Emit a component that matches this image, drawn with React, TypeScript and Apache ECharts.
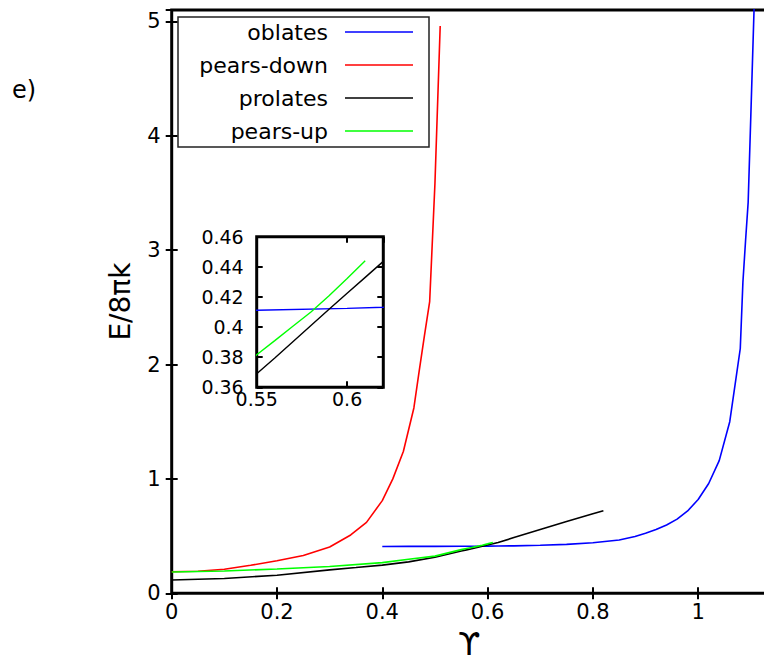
import React, { useEffect, useRef } from "react";
import * as echarts from "echarts";

// ---- data ----
const seriesNames = ["oblates", "pears-down", "prolates", "pears-up"];
const seriesColors = ["#0000ff", "#ff0000", "#000000", "#00ff00"];

const oblatesX = [0.4, 0.45, 0.5, 0.55, 0.6, 0.62, 0.65, 0.7, 0.75, 0.8, 0.85, 0.88, 0.9, 0.92, 0.94, 0.96, 0.98, 1.0, 1.02, 1.04, 1.06, 1.07, 1.08, 1.085, 1.09, 1.095, 1.1, 1.106, 1.112];
const oblatesY = [0.4095, 0.41, 0.4105, 0.4112, 0.4124, 0.4132, 0.415, 0.42, 0.428, 0.442, 0.466, 0.497, 0.525, 0.557, 0.597, 0.648, 0.72, 0.82, 0.96, 1.16, 1.5, 1.82, 2.14, 2.72, 3.08, 3.42, 4.17, 5.08, 6.0];

const pearsDownX = [0, 0.05, 0.1, 0.15, 0.2, 0.25, 0.3, 0.34, 0.37, 0.4, 0.42, 0.44, 0.46, 0.47, 0.48, 0.49, 0.5, 0.51];
const pearsDownY = [0.189, 0.193, 0.21, 0.245, 0.284, 0.33, 0.405, 0.51, 0.62, 0.81, 1.0, 1.24, 1.62, 1.94, 2.25, 2.55, 3.58, 4.96];

const prolatesX = [0, 0.1, 0.2, 0.3, 0.35, 0.4, 0.45, 0.5, 0.55, 0.56, 0.57, 0.58, 0.59, 0.6, 0.61, 0.62, 0.65, 0.7, 0.75, 0.8, 0.82];
const prolatesY = [0.116, 0.13, 0.158, 0.205, 0.225, 0.246, 0.275, 0.315, 0.369, 0.3795, 0.3902, 0.401, 0.4118, 0.4225, 0.433, 0.4436, 0.487, 0.557, 0.627, 0.695, 0.722];

const pearsUpX = [0, 0.1, 0.2, 0.3, 0.4, 0.45, 0.5, 0.55, 0.56, 0.57, 0.58, 0.59, 0.6, 0.61];
const pearsUpY = [0.186, 0.195, 0.212, 0.234, 0.268, 0.297, 0.325, 0.3816, 0.391, 0.4005, 0.41, 0.4208, 0.4322, 0.444];

const mainXTicks = { min: 0, max: 1.13, interval: 0.2 };
const mainYTicks = { min: 0, max: 5.1, interval: 1 };
const insetXTicks = { min: 0.55, max: 0.62, interval: 0.05 };
const insetYTicks = { min: 0.36, max: 0.46, interval: 0.02 };

const xAxisTitle = "ϒ";
const yAxisTitle = "E/8πk";
const panelLabel = "e)";

const zip = (xs: number[], ys: number[]) => xs.map((x, i) => [x, ys[i]]);
const allData = [
  zip(oblatesX, oblatesY),
  zip(pearsDownX, pearsDownY),
  zip(prolatesX, prolatesY),
  zip(pearsUpX, pearsUpY),
];

const FONT = "DejaVu Sans";

export default function App() {
  const ref = useRef<HTMLDivElement>(null);
  useEffect(() => {
    if (!ref.current) return;
    const chart = echarts.init(ref.current, null, { renderer: "svg" });
    const tick = (len: number) => ({
      show: true,
      inside: true,
      length: len,
      lineStyle: { color: "#000", width: 2 },
    });
    const base = {
      type: "value",
      axisLine: { show: false },
      splitLine: { show: false },
    };
    const labelStyle = (size: number, margin: number, hideMax = false) => ({
      show: true,
      fontFamily: FONT,
      fontSize: size,
      color: "#000",
      margin,
      showMaxLabel: hideMax ? false : null,
    });
    const noLabel = { show: false };

    const mainSeries = allData.map((d, i) => ({
      name: seriesNames[i],
      type: "line",
      data: d,
      xAxisIndex: 0,
      yAxisIndex: 0,
      symbol: "none",
      clip: true,
      lineStyle: { color: seriesColors[i], width: 1.6 },
      itemStyle: { color: seriesColors[i] },
      z: 3,
    }));
    const insetSeries = allData.map((d, i) => ({
      name: seriesNames[i],
      type: "line",
      data: d,
      xAxisIndex: 2,
      yAxisIndex: 2,
      symbol: "none",
      clip: true,
      lineStyle: { color: seriesColors[i], width: 1.4 },
      itemStyle: { color: seriesColors[i] },
      z: 5,
    }));

    chart.setOption({
      animation: false,
      backgroundColor: "#fff",
      textStyle: { fontFamily: FONT },
      grid: [
        {
          left: 171.7,
          top: 9.9,
          width: 594.9,
          height: 583.4,
          outerBoundsMode: "none",
          containLabel: false,
          show: true,
          borderColor: "#000",
          borderWidth: 3,
          backgroundColor: "transparent",
          z: 1,
        },
        {
          left: 256.7,
          top: 236.7,
          width: 126.6,
          height: 150.6,
          outerBoundsMode: "none",
          containLabel: false,
          show: true,
          borderColor: "#000",
          borderWidth: 3,
          backgroundColor: "#fff",
          z: 4,
        },
      ],
      xAxis: [
        {
          ...base,
          gridIndex: 0,
          position: "bottom",
          ...mainXTicks,
          axisTick: tick(6),
          axisLabel: labelStyle(21, 8, true),
          name: xAxisTitle,
          nameLocation: "middle",
          nameGap: 27,
          nameTextStyle: { fontFamily: FONT, fontSize: 32, color: "#000", lineHeight: 34 },
        },
        {
          ...base,
          gridIndex: 0,
          position: "top",
          ...mainXTicks,
          axisTick: tick(6),
          axisLabel: noLabel,
        },
        {
          ...base,
          gridIndex: 1,
          position: "bottom",
          ...insetXTicks,
          axisTick: tick(6),
          axisLabel: labelStyle(19, 2, true),
          z: 6,
        },
        {
          ...base,
          gridIndex: 1,
          position: "top",
          ...insetXTicks,
          axisTick: tick(6),
          axisLabel: noLabel,
          z: 6,
        },
      ],
      yAxis: [
        {
          ...base,
          gridIndex: 0,
          position: "left",
          ...mainYTicks,
          axisTick: tick(6),
          axisLabel: labelStyle(21, 11, true),
          name: yAxisTitle,
          nameLocation: "middle",
          nameGap: 37,
          nameRotate: 90,
          nameTextStyle: { fontFamily: FONT, fontSize: 28, color: "#000" },
        },
        {
          ...base,
          gridIndex: 0,
          position: "right",
          ...mainYTicks,
          axisTick: tick(6),
          axisLabel: noLabel,
        },
        {
          ...base,
          gridIndex: 1,
          position: "left",
          ...insetYTicks,
          axisTick: tick(6),
          axisLabel: labelStyle(19, 13),
          z: 6,
        },
        {
          ...base,
          gridIndex: 1,
          position: "right",
          ...insetYTicks,
          axisTick: tick(6),
          axisLabel: noLabel,
          z: 6,
        },
      ],
      legend: {
        data: seriesNames,
        orient: "vertical",
        left: 178,
        top: 17,
        align: "right",
        icon: "rect",
        padding: [3, 16, 4, 8],
        itemGap: 9,
        itemWidth: 68,
        itemHeight: 1.6,
        borderColor: "#222",
        borderWidth: 1.5,
        borderRadius: 0,
        backgroundColor: "#fff",
        selectedMode: false,
        textStyle: {
          fontFamily: FONT,
          fontSize: 22,
          color: "#000",
          width: 142,
          align: "right",
          padding: [0, 12, 0, 0],
          lineHeight: 24,
        },
        z: 10,
      },
      graphic: [
        {
          type: "text",
          left: 12,
          top: 78,
          style: { text: panelLabel, font: `24px "${FONT}"`, fill: "#000" },
        },
      ],
      series: [...mainSeries, ...insetSeries],
    });
    return () => chart.dispose();
  }, []);
  return (
    <div
      ref={ref}
      style={{ position: "absolute", left: 0, top: 0, width: 764, height: 664 }}
    />
  );
}
